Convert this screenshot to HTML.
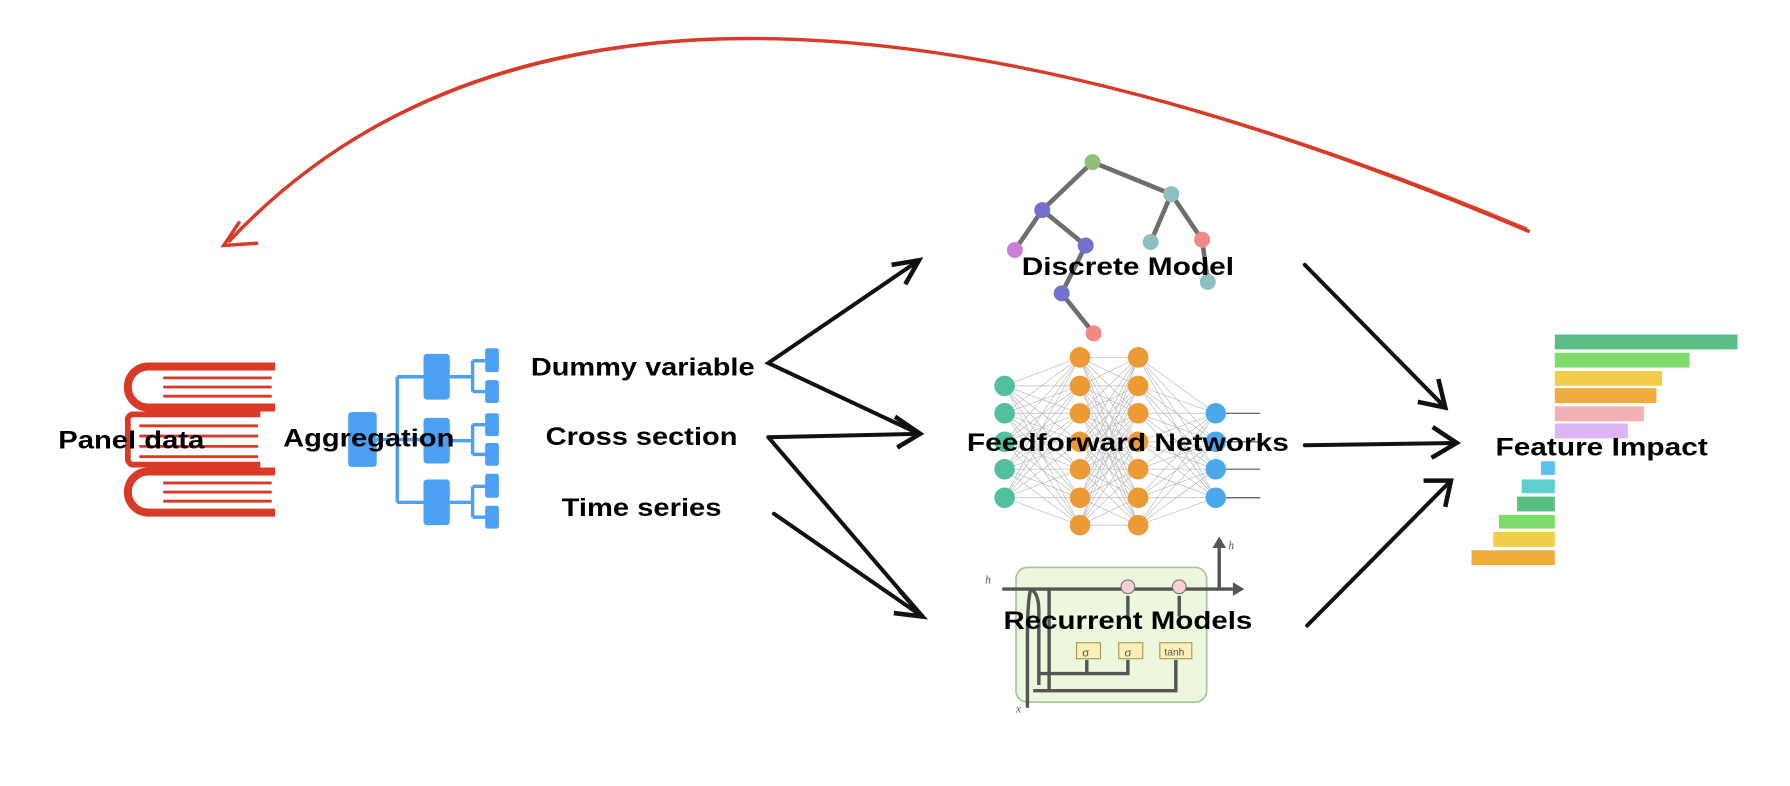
<!DOCTYPE html>
<html><head><meta charset="utf-8"><style>html,body{margin:0;padding:0;background:#fff}svg{display:block}</style></head>
<body>
<svg width="1790" height="786" viewBox="0 0 1568 688.5" preserveAspectRatio="none" xmlns="http://www.w3.org/2000/svg" font-family="Liberation Sans, sans-serif" font-weight="bold">
<rect width="1568" height="689" fill="#fff"/>
<!-- red arc -->
<path d="M1340,203 Q 530,-140 200,212" fill="none" stroke="#d93a28" stroke-width="3"/>
<path d="M1338,200 Q 540,-135 203,208" fill="none" stroke="#d93a28" stroke-width="1"/>
<path d="M210,194 L196,215 L226,213" fill="none" stroke="#d93a28" stroke-width="3"/>
<!-- books -->
<g fill="none" stroke="#d93a28">
<path d="M241,321 H130 A18,18 0 0 0 130,357 H241" stroke-width="7"/>
<path d="M143,331 H238 M143,339 H238 M143,347 H238" stroke-width="2.5"/>
<path d="M241,413 H130 A18,18 0 0 0 130,449 H241" stroke-width="7"/>
<path d="M143,423 H238 M143,431 H238 M143,439 H238" stroke-width="2.5"/>
<path d="M228,363 H118 A5,5 0 0 0 112,369 V402 A5,5 0 0 0 118,407 H228" stroke-width="5"/>
<path d="M122,373 H226 M122,382 H226 M122,391 H226 M122,400 H226" stroke-width="2.5"/>
</g>
<!-- aggregation icon -->
<g fill="#4aa0f2">
<rect x="305" y="361" width="25" height="48" rx="3"/>
<rect x="371" y="310" width="23" height="40" rx="3"/>
<rect x="371" y="366" width="23" height="40" rx="3"/>
<rect x="371" y="420" width="23" height="40" rx="3"/>
<rect x="425" y="305" width="12" height="21" rx="2"/>
<rect x="425" y="333" width="12" height="20" rx="2"/>
<rect x="425" y="362" width="12" height="20" rx="2"/>
<rect x="425" y="388" width="12" height="20" rx="2"/>
<rect x="425" y="415" width="12" height="21" rx="2"/>
<rect x="425" y="443" width="12" height="20" rx="2"/>
</g>
<g fill="none" stroke="#4aa0f2" stroke-width="3">
<path d="M330,385 H371 M348,330 V440 M348,330 H371 M348,440 H371"/>
<path d="M394,330 H414 M414,316 V343 M414,316 H425 M414,343 H425"/>
<path d="M394,386 H414 M414,372 V398 M414,372 H425 M414,398 H425"/>
<path d="M394,440 H414 M414,426 V453 M414,426 H425 M414,453 H425"/>
</g>
<!-- tree -->
<g stroke="#6e6e6e" stroke-width="4">
<line x1="957" y1="142" x2="913" y2="184"/><line x1="957" y1="142" x2="1026" y2="170"/>
<line x1="913" y1="184" x2="889" y2="219"/><line x1="913" y1="184" x2="951" y2="215"/>
<line x1="951" y1="215" x2="930" y2="257"/><line x1="930" y1="257" x2="958" y2="292"/>
<line x1="1026" y1="170" x2="1008" y2="212"/><line x1="1026" y1="170" x2="1053" y2="210"/>
<line x1="1053" y1="210" x2="1058" y2="247"/>
</g>
<g>
<circle cx="957" cy="142" r="7" fill="#8ec07a"/><circle cx="1026" cy="170" r="7" fill="#8dbfc0"/>
<circle cx="913" cy="184" r="7" fill="#7371d0"/><circle cx="889" cy="219" r="7" fill="#c880d6"/>
<circle cx="951" cy="215" r="7" fill="#7371d0"/><circle cx="1008" cy="212" r="7" fill="#8dbfc0"/>
<circle cx="1053" cy="210" r="7" fill="#f08884"/><circle cx="930" cy="257" r="7" fill="#7371d0"/>
<circle cx="958" cy="292" r="7" fill="#f08884"/><circle cx="1058" cy="247" r="7" fill="#8dbfc0"/>
</g>
<!-- NN -->
<g stroke="#bbb" stroke-width="0.6" id="nnlines">
<path d="M880,338 L946,313 M880,338 L946,338 M880,338 L946,362 M880,338 L946,387 M880,338 L946,411 M880,338 L946,436 M880,338 L946,460
M880,362 L946,313 M880,362 L946,338 M880,362 L946,362 M880,362 L946,387 M880,362 L946,411 M880,362 L946,436 M880,362 L946,460
M880,387 L946,313 M880,387 L946,338 M880,387 L946,362 M880,387 L946,387 M880,387 L946,411 M880,387 L946,436 M880,387 L946,460
M880,411 L946,313 M880,411 L946,338 M880,411 L946,362 M880,411 L946,387 M880,411 L946,411 M880,411 L946,436 M880,411 L946,460
M880,436 L946,313 M880,436 L946,338 M880,436 L946,362 M880,436 L946,387 M880,436 L946,411 M880,436 L946,436 M880,436 L946,460"/>
<path d="M946,313 L997,313 M946,313 L997,338 M946,313 L997,362 M946,313 L997,387 M946,313 L997,411 M946,313 L997,436 M946,313 L997,460
M946,338 L997,313 M946,338 L997,338 M946,338 L997,362 M946,338 L997,387 M946,338 L997,411 M946,338 L997,436 M946,338 L997,460
M946,362 L997,313 M946,362 L997,338 M946,362 L997,362 M946,362 L997,387 M946,362 L997,411 M946,362 L997,436 M946,362 L997,460
M946,387 L997,313 M946,387 L997,338 M946,387 L997,362 M946,387 L997,387 M946,387 L997,411 M946,387 L997,436 M946,387 L997,460
M946,411 L997,313 M946,411 L997,338 M946,411 L997,362 M946,411 L997,387 M946,411 L997,411 M946,411 L997,436 M946,411 L997,460
M946,436 L997,313 M946,436 L997,338 M946,436 L997,362 M946,436 L997,387 M946,436 L997,411 M946,436 L997,436 M946,436 L997,460
M946,460 L997,313 M946,460 L997,338 M946,460 L997,362 M946,460 L997,387 M946,460 L997,411 M946,460 L997,436 M946,460 L997,460"/>
<path d="M997,313 L1065,362 M997,313 L1065,387 M997,313 L1065,411 M997,313 L1065,436
M997,338 L1065,362 M997,338 L1065,387 M997,338 L1065,411 M997,338 L1065,436
M997,362 L1065,362 M997,362 L1065,387 M997,362 L1065,411 M997,362 L1065,436
M997,387 L1065,362 M997,387 L1065,387 M997,387 L1065,411 M997,387 L1065,436
M997,411 L1065,362 M997,411 L1065,387 M997,411 L1065,411 M997,411 L1065,436
M997,436 L1065,362 M997,436 L1065,387 M997,436 L1065,411 M997,436 L1065,436
M997,460 L1065,362 M997,460 L1065,387 M997,460 L1065,411 M997,460 L1065,436"/>
</g>
<g stroke="#555" stroke-width="1"><path d="M1065,362 H1104 M1065,387 H1104 M1065,411 H1104 M1065,436 H1104"/></g>
<g fill="#52c0a0"><circle cx="880" cy="338" r="9"/><circle cx="880" cy="362" r="9"/><circle cx="880" cy="387" r="9"/><circle cx="880" cy="411" r="9"/><circle cx="880" cy="436" r="9"/></g>
<g fill="#eb9a35"><circle cx="946" cy="313" r="9"/><circle cx="946" cy="338" r="9"/><circle cx="946" cy="362" r="9"/><circle cx="946" cy="387" r="9"/><circle cx="946" cy="411" r="9"/><circle cx="946" cy="436" r="9"/><circle cx="946" cy="460" r="9"/>
<circle cx="997" cy="313" r="9"/><circle cx="997" cy="338" r="9"/><circle cx="997" cy="362" r="9"/><circle cx="997" cy="387" r="9"/><circle cx="997" cy="411" r="9"/><circle cx="997" cy="436" r="9"/><circle cx="997" cy="460" r="9"/></g>
<g fill="#4aa9ee"><circle cx="1065" cy="362" r="9"/><circle cx="1065" cy="387" r="9"/><circle cx="1065" cy="411" r="9"/><circle cx="1065" cy="436" r="9"/></g>
<!-- LSTM -->
<rect x="890" y="497" width="167" height="118" rx="10" fill="#ecf7dc" stroke="#a9c79a" stroke-width="1.5"/>
<g fill="none" stroke="#555" stroke-width="3">
<path d="M878,516 H1080 M1068,516 V480"/>
<path d="M903,516 Q910,520 910,535 V600 M919,516 V604 M903,516 Q900,525 900,560 V620"/>
<path d="M910,590 H952 V578 M910,590 H988 V578 M905,605 H1030 V578"/>
<path d="M988,540 V522 M1033,540 V522"/>
</g>
<path d="M1080,510 L1090,516 L1080,522Z M1062,480 L1068,470 L1074,480Z" fill="#555"/>
<circle cx="988" cy="514" r="6" fill="#f6d0d6" stroke="#777"/><circle cx="1033" cy="514" r="6" fill="#f6d0d6" stroke="#777"/>
<g fill="#fbf0b8" stroke="#a89a5a"><rect x="943" y="563" width="21" height="14"/><rect x="980" y="563" width="21" height="14"/><rect x="1016" y="563" width="28" height="14"/></g>
<g font-weight="normal" font-size="10" fill="#555"><text x="948" y="575">σ</text><text x="985" y="575">σ</text><text x="1020" y="574" font-size="9">tanh</text>
<text x="863" y="511" font-style="italic" font-family="Liberation Serif, serif">h</text><text x="1076" y="481" font-style="italic" font-family="Liberation Serif, serif">h</text><text x="890" y="624" font-style="italic" font-family="Liberation Serif, serif">x</text></g>
<!-- bars -->
<rect x="1362" y="293" width="160" height="13" fill="#59bd84"/>
<rect x="1362" y="309" width="118" height="13" fill="#7ddc6a"/>
<rect x="1362" y="325" width="94" height="13" fill="#f3cd4a"/>
<rect x="1362" y="340" width="89" height="13" fill="#f0ad3e"/>
<rect x="1362" y="356" width="78" height="13" fill="#f2b2b3"/>
<rect x="1362" y="371" width="64" height="13" fill="#dcb5f5"/>
<rect x="1350" y="404" width="12" height="12" fill="#5bc1f0"/>
<rect x="1333" y="420" width="29" height="12" fill="#5fd0d0"/>
<rect x="1329" y="435" width="33" height="13" fill="#59bd84"/>
<rect x="1313" y="451" width="49" height="12" fill="#7ddc6a"/>
<rect x="1308" y="466" width="54" height="13" fill="#f3cd4a"/>
<rect x="1289" y="482" width="73" height="13" fill="#f0ad3e"/>
<!-- black arrows -->
<g fill="none" stroke="#111" stroke-width="3.5" stroke-linecap="round">
<path d="M805,228 L673,318 L805,380"/>
<path d="M673,383 L805,380 M673,383 L808,540 M678,450 L808,540"/>
<path d="M1143,232 L1266,357 M1143,390 L1275,388 M1145,548 L1271,421"/>
</g>
<g fill="none" stroke="#111" stroke-width="4" stroke-linejoin="miter">
<path d="M781,232 L805,228 L793,249"/>
<path d="M784,365 L806,380 L786,392"/>
<path d="M788,517 L808,540 L783,537"/>
<path d="M1242,352 L1266,357 L1260,332"/>
<path d="M1255,374 L1276,388 L1254,401"/>
<path d="M1247,421 L1271,421 L1266,444"/>
</g>
<!-- labels -->
<g font-size="22" fill="#000" text-anchor="middle">
<text x="115" y="393" textLength="128" lengthAdjust="spacingAndGlyphs">Panel data</text>
<text x="323" y="391" textLength="150" lengthAdjust="spacingAndGlyphs">Aggregation</text>
<text x="563" y="329" textLength="196" lengthAdjust="spacingAndGlyphs">Dummy variable</text>
<text x="562" y="390" textLength="168" lengthAdjust="spacingAndGlyphs">Cross section</text>
<text x="562" y="452" textLength="140" lengthAdjust="spacingAndGlyphs">Time series</text>
<text x="988" y="241" textLength="186" lengthAdjust="spacingAndGlyphs">Discrete Model</text>
<text x="988" y="395" textLength="282" lengthAdjust="spacingAndGlyphs">Feedforward Networks</text>
<text x="988" y="551" textLength="218" lengthAdjust="spacingAndGlyphs">Recurrent Models</text>
<text x="1403" y="399" textLength="186" lengthAdjust="spacingAndGlyphs">Feature Impact</text>
</g>
</svg>
</body></html>
